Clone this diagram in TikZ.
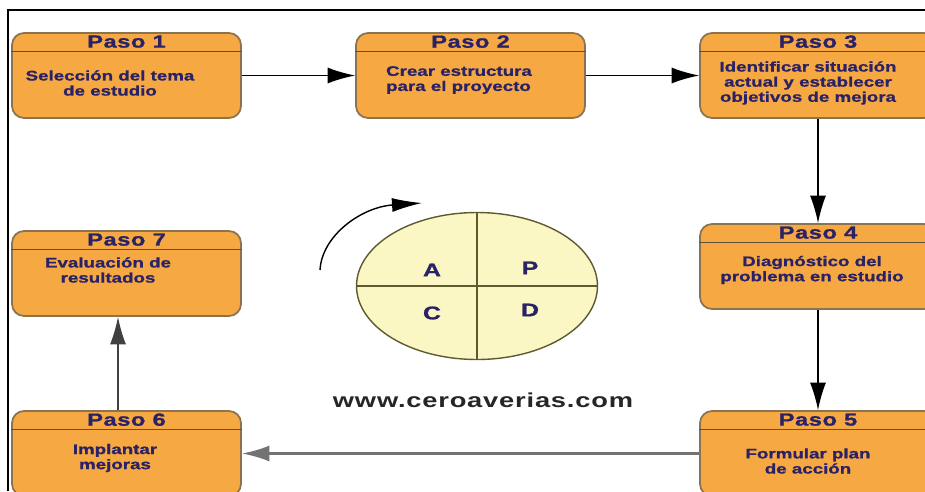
\documentclass[tikz,border=0pt]{standalone}
\usepackage{fontspec}
\newfontfamily\pasofont[FakeStretch=1.35]{Liberation Sans}
\usepackage{tikz}
\usetikzlibrary{positioning}
\usetikzlibrary{arrows.meta}
\usetikzlibrary{shapes.geometric}
\usepackage{xcolor}

\definecolor{pasonaranja}{HTML}{F6A843}
\definecolor{pasoborde}{HTML}{8C7350}
\definecolor{pasoazul}{HTML}{2A2266}
\definecolor{cicloamarillo}{HTML}{FBF7C4}
\definecolor{cicloborde}{HTML}{5E5A30}

\tikzset{
  paso/.style={draw=pasoborde, fill=pasonaranja, line width=1pt,
    rounded corners=0.24cm, minimum width=4.58cm, minimum height=1.7cm, inner sep=0pt},
  pasoder/.style={paso, minimum width=4.72cm},
  pasohead/.style={font=\pasofont\bfseries\fontsize{10}{12}\selectfont\addfontfeature{FakeBold=1,LetterSpace=3},
    text=pasoazul, inner sep=0pt},
  pasotext/.style={font=\pasofont\bfseries\fontsize{7.9}{8.6}\selectfont\addfontfeature{FakeBold=1},
    text=pasoazul, align=center, inner sep=0pt},
  pasoline/.style={draw=pasoborde!70!black, line width=0.6pt},
  flecha/.style={-{Latex[length=5.5mm,width=3.2mm]}, line width=0.8pt},
  ciclo/.style={ellipse, draw=cicloborde, fill=cicloamarillo, line width=0.8pt,
    minimum width=4.82cm, minimum height=2.94cm, inner sep=0pt},
  letra/.style={font=\pasofont\bfseries\fontsize{10.5}{12}\selectfont\addfontfeature{FakeBold=1},
    text=pasoazul},
  web/.style={font=\pasofont\bfseries\fontsize{11.5}{13}\selectfont\addfontfeature{LetterSpace=4},
    text=black!85},
}

\begin{document}
\begin{tikzpicture}[x=0.02cm, y=-0.02cm]

\useasboundingbox (0,0) rectangle (925,491);
\clip (0,0) rectangle (925,491);

\draw[line width=1.1pt] (8,491) -- (8,10) -- (925,10);

% pasos
\node[paso] (p1) at (126.5,75.5) {};
\node[pasohead] (p1h) at ([yshift=-0.19cm]p1.north) {Paso 1};
\draw[pasoline] ([yshift=-0.38cm]p1.north west) -- ([yshift=-0.38cm]p1.north east);
\node[pasotext] (p1t) at (110,83) {Selección del tema\\de estudio};

\node[paso] (p2) at (470.5,75.5) {};
\node[pasohead] (p2h) at ([yshift=-0.19cm]p2.north) {Paso 2};
\draw[pasoline] ([yshift=-0.38cm]p2.north west) -- ([yshift=-0.38cm]p2.north east);
\node[pasotext, align=left] (p2t) at (459,80) {Crear estructura\\para el proyecto};

\node[pasoder] (p3) at (818,75.5) {};
\node[pasohead] (p3h) at ([yshift=-0.19cm]p3.north) {Paso 3};
\draw[pasoline] ([yshift=-0.38cm]p3.north west) -- ([yshift=-0.38cm]p3.north east);
\node[pasotext] (p3t) at (808,83) {Identificar situación\\actual y establecer\\objetivos de mejora};

\node[pasoder] (p4) at (818,266.5) {};
\node[pasohead] (p4h) at ([yshift=-0.19cm]p4.north) {Paso 4};
\draw[pasoline] ([yshift=-0.38cm]p4.north west) -- ([yshift=-0.38cm]p4.north east);
\node[pasotext] (p4t) at (812,270) {Diagnóstico del\\problema en estudio};

\node[pasoder] (p5) at (818,453.5) {};
\node[pasohead] (p5h) at ([yshift=-0.19cm]p5.north) {Paso 5};
\draw[pasoline] ([yshift=-0.38cm]p5.north west) -- ([yshift=-0.38cm]p5.north east);
\node[pasotext] (p5t) at (808,461) {Formular plan\\de acción};

\node[paso] (p6) at (126.5,453.5) {};
\node[pasohead] (p6h) at ([yshift=-0.19cm]p6.north) {Paso 6};
\draw[pasoline] ([yshift=-0.38cm]p6.north west) -- ([yshift=-0.38cm]p6.north east);
\node[pasotext] (p6t) at (115,458) {Implantar\\mejoras};

\node[paso] (p7) at (126.5,273.5) {};
\node[pasohead] (p7h) at ([yshift=-0.19cm]p7.north) {Paso 7};
\draw[pasoline] ([yshift=-0.38cm]p7.north west) -- ([yshift=-0.38cm]p7.north east);
\node[pasotext] (p7t) at (108,270) {Evaluación de\\resultados};

% flechas
\draw[flecha] (p1.east) -- (p2.west);
\draw[flecha] (p2.east) -- (p3.west);
\draw[flecha] (p3.south) -- (p4.north);
\draw[flecha] (p4.south) -- (p5.north);
\draw[flecha, draw=black!55, line width=1.4pt] (p5.west) -- (p6.east);
\draw[flecha, draw=black!75] ([xshift=-0.17cm]p6.north) -- ([xshift=-0.17cm]p7.south);

% ciclo PDCA
\node[ciclo] (pdca) at (477,286) {};
\draw[cicloborde, line width=0.8pt] (pdca.north) -- (pdca.south);
\draw[cicloborde, line width=0.8pt] (pdca.west) -- (pdca.east);
\node[letra] (letra-a) at (432,270) {A};
\node[letra] (letra-p) at (530,268) {P};
\node[letra] (letra-c) at (432,313) {C};
\node[letra] (letra-d) at (530,310) {D};

\coordinate (giro-a) at (320,270);
\coordinate (giro-b) at (422,203);
\draw[-{Latex[length=6mm,width=2.8mm]}, line width=0.8pt]
(giro-a) .. controls (322,235) and (362,207) .. (giro-b);

\node[web] (web) at (483,400) {www.ceroaverias.com};

\end{tikzpicture}
\end{document}
